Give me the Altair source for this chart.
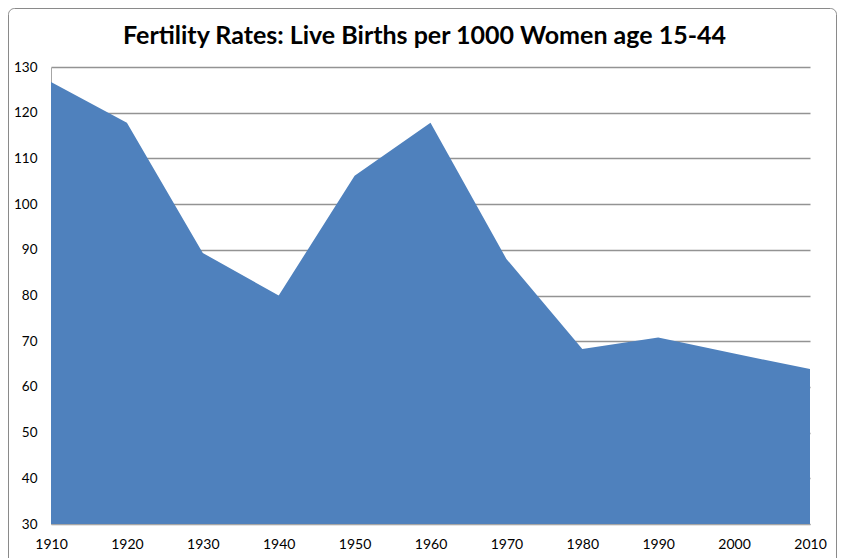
import altair as alt
import pandas as pd

years = [1910, 1920, 1930, 1940, 1950, 1960, 1970, 1980, 1990, 2000, 2010]
rates = [126.7, 117.8, 89.3, 80.0, 106.2, 117.8, 88.0, 68.3, 70.8, 67.3, 63.9]
y_ticks = [30, 40, 50, 60, 70, 80, 90, 100, 110, 120, 130]
x_ticks = years
title_text = "Fertility Rates: Live Births per 1000 Women age 15-44"

df = pd.DataFrame({"year": years, "rate": rates})

FONT = "Lato"

area = alt.Chart(df).mark_area(color="#4F81BD", opacity=1).encode(
    x=alt.X(
        "year:Q",
        scale=alt.Scale(domain=[1910, 2010], nice=False, zero=False),
        axis=alt.Axis(
            values=x_ticks, format="d", title=None, grid=False, ticks=False,
            labelPadding=13, domainColor="#a6a6a6", labelFontSize=14,
            labelColor="black", labelFont=FONT, labelFlush=False,
        ),
    ),
    y=alt.Y(
        "rate:Q",
        scale=alt.Scale(domain=[30, 130], nice=False, zero=False),
        axis=alt.Axis(
            values=y_ticks, title=None, grid=True, gridColor="#939393",
            gridWidth=1.4, ticks=False, labelPadding=14, domainColor="#a6a6a6",
            labelFontSize=13.5, labelColor="black", labelFont=FONT,
        ),
    ),
    y2=alt.datum(30),
)

border = alt.Chart(pd.DataFrame({"a": [0]})).mark_rect(
    fill=None, stroke="#8a8a8a", strokeWidth=1, cornerRadius=6
).encode(
    x=alt.value(-42.5), x2=alt.value(785.5), y=alt.value(-58.5), y2=alt.value(600)
)

chart = alt.layer(area, border).properties(
    width=759,
    height=457,
    title=alt.TitleParams(
        title_text, font=FONT, fontSize=25, fontWeight="bold", color="black",
        anchor="middle", offset=0, dx=-6, dy=41,
    ),
    autosize=alt.AutoSizeParams(type="none"),
    padding={"left": 43, "top": 59, "right": 27, "bottom": 40},
).configure_view(stroke=None)

chart.save("out.html", embed_options={"renderer": "svg", "actions": False})
